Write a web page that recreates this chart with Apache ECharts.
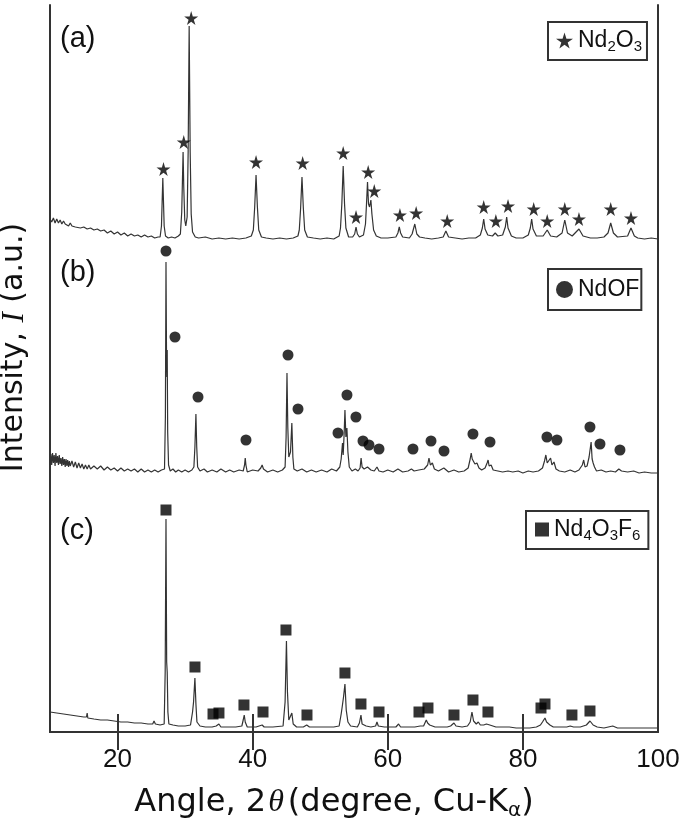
<!DOCTYPE html>
<html>
<head>
<meta charset="utf-8">
<script src="https://cdn.jsdelivr.net/npm/echarts@6/dist/echarts.min.js"></script>
<style>
  html, body { margin: 0; padding: 0; background: #fff; }
  #chart { width: 685px; height: 825px; }
</style>
</head>
<body>
<div id="chart"></div>
<script>
// vertical offsets of the stacked patterns (a.u.)
const offsetA = 490;
const offsetB = 255;
const offsetC = 0;

// x tick labels
const tickValues = [20, 40, 60, 80];
const labelValues = [20, 40, 60, 80, 100];

// (a) Nd2O3 pattern: [2theta, intensity]
const patternA = [
  [10.0,23],[10.25,20],[10.5,24],[10.75,19],[11.0,23],[11.25,19],[11.5,22],[11.75,18],[12.0,21],[12.25,18],
  [12.5,20],[12.75,16],[13.0,19],[13.25,16],[13.5,18],[13.75,15],[14.0,17],[14.5,14],[15.0,15],[15.5,13],
  [16.0,14],[16.5,12],[17.0,13],[17.5,11],[18.0,12],[18.5,9],[19.0,11],[19.5,8],
  [20.0,10],[20.5,7],[21.0,9],[21.5,6],[22.0,8],[22.5,6],[23.0,7],[23.5,5],[24.0,7],[24.5,5],
  [25.0,6],[25.5,4],[26.0,5],[26.3,5],[26.5,16],[26.6,40],[26.7,64],[26.8,40],[26.9,16],[27.1,6],
  [27.5,4],[28.0,5],[28.5,4],[29.0,6],[29.3,8],[29.5,30],[29.6,60],[29.7,90],[29.8,55],[29.95,22],
  [30.1,16],[30.3,25],[30.45,90],[30.6,216],[30.75,90],[30.9,28],[31.1,10],[31.5,5],[32,4],[33,5],
  [34,3],[35,4],[36,3],[37,4],[38,3],[39,4],[39.8,6],[40.1,12],[40.3,35],[40.5,67],
  [40.7,35],[40.9,12],[41.3,5],[42,4],[43,3],[44,4],[45,3],[46,4],[46.7,6],[46.9,12],
  [47.1,34],[47.3,65],[47.5,34],[47.7,12],[48.1,5],[49,4],[50,3],[51,4],[52,3],[52.8,6],
  [53.0,14],[53.2,38],[53.4,76],[53.6,38],[53.8,14],[54.2,5],[54.8,5],[55.1,8],[55.3,15],[55.5,8],
  [55.8,5],[56.4,7],[56.7,18],[56.85,38],[57.0,60],[57.15,38],[57.3,35],[57.5,42],[57.65,28],[57.9,12],
  [58.3,6],[59,4],[60,4],[61.2,5],[61.5,9],[61.7,15],[61.9,9],[62.2,5],[63.2,4],[63.6,8],
  [64.0,18],[64.3,8],[64.7,5],[65.5,4],[66.5,3],[67.5,4],[68.2,5],[68.6,11],[69.0,5],[70,4],
  [71,3],[72,4],[73,4],[73.7,7],[74.0,14],[74.2,23],[74.4,13],[74.8,7],[75.5,6],[75.9,9],
  [76.3,6],[77.0,7],[77.4,15],[77.6,25],[77.8,14],[78.3,6],[79,4],[80,4],[80.8,7],[81.1,14],
  [81.3,23],[81.5,13],[82.0,6],[83.0,6],[83.6,12],[84.1,6],[85.0,5],[85.8,9],[86.2,22],[86.6,9],
  [87.3,6],[88.3,13],[88.9,6],[90,4],[91,4],[92,5],[92.6,9],[93.0,19],[93.4,9],[94,5],
  [95.5,6],[96.0,14],[96.5,6],[97,4],[98,3],[99,4],[100,3]
];

// (b) NdOF pattern
const patternB = [
  [10.0,17],[10.12,23],[10.25,12],[10.37,24],[10.5,14],[10.62,22],[10.75,11],[10.87,24],[11.0,14],[11.12,21],
  [11.25,12],[11.37,22],[11.5,13],[11.62,19],[11.75,11],[11.87,20],[12.0,12],[12.12,18],[12.25,10],[12.37,18],
  [12.5,11],[12.62,17],[12.75,10],[12.87,16],[13.0,11],[13.25,16],[13.5,10],[13.75,15],[14.0,9],[14.25,14],
  [14.5,9],[14.75,13],[15.0,8],[15.25,12],[15.5,8],[15.75,12],[16.0,8],[16.5,11],
  [17.0,8],[17.5,11],[18.0,7],[18.5,10],[19.0,7],[19.5,9],[20.0,6],[20.5,9],[21.0,6],[21.5,8],
  [22.0,6],[22.5,8],[23.0,5],[23.5,8],[24.0,5],[24.5,7],[25.0,5],[25.5,7],[26.0,5],[26.5,7],
  [26.95,8],[27.08,60],[27.17,215],[27.25,120],[27.3,100],[27.35,127],[27.42,45],[27.55,12],[27.8,6],[28.2,8],
  [28.6,5],[29.0,7],[29.5,5],[30.0,7],[30.5,5],[31.0,7],[31.3,10],[31.45,30],[31.6,63],[31.72,30],
  [31.85,10],[32.2,6],[32.8,8],[33.3,5],[34.0,7],[34.7,5],[35.3,8],[36.0,5],[36.6,7],[37.2,5],
  [38.0,7],[38.6,6],[38.8,12],[38.9,19],[39.0,12],[39.2,5],[40.0,7],[40.8,6],[41.2,9],[41.4,12],
  [41.6,8],[42.2,5],[43.0,7],[43.7,5],[44.4,7],[44.8,10],[44.95,40],[45.08,104],[45.2,50],[45.35,20],
  [45.6,25],[45.8,54],[45.95,20],[46.1,8],[46.6,6],[47.3,8],[48.0,5],[48.7,7],[49.4,5],[50.2,7],
  [51.0,5],[51.7,8],[52.4,6],[52.9,10],[53.1,18],[53.3,34],[53.4,22],[53.55,45],[53.66,67],[53.8,40],
  [53.95,49],[54.1,25],[54.3,10],[54.7,6],[55.2,8],[55.6,6],[55.9,9],[56.05,19],[56.2,10],[56.5,8],
  [57.0,10],[57.5,7],[58.0,6],[58.4,10],[58.7,6],[59.3,5],[60.0,7],[60.8,5],[61.5,8],[62.2,5],
  [63.0,6],[63.5,8],[63.7,10],[63.9,6],[64.6,7],[65.4,8],[65.9,12],[66.1,19],[66.3,12],[66.6,14],
  [66.9,8],[67.5,6],[68.3,9],[69.0,5],[69.8,7],[70.5,5],[71.3,6],[71.9,9],[72.2,18],[72.35,24],
  [72.5,18],[72.7,20],[72.9,13],[73.2,14],[73.5,9],[73.9,7],[74.4,9],[74.7,14],[74.85,17],[75.0,11],
  [75.3,12],[75.6,7],[76.3,6],[77.0,5],[77.8,6],[78.5,5],[79.3,6],[80.0,4],[80.8,6],[81.5,5],
  [82.3,6],[82.9,9],[83.2,16],[83.4,22],[83.6,14],[83.85,12],[84.1,19],[84.3,12],[84.6,15],[84.9,8],
  [85.4,6],[86.2,5],[87.0,7],[87.7,5],[88.3,7],[88.8,12],[89.0,17],[89.2,10],[89.5,11],[89.8,20],
  [90.1,35],[90.25,18],[90.4,14],[90.6,10],[90.9,6],[91.6,7],[92.3,5],[93.0,6],[93.7,5],[94.2,8],
  [94.4,10],[94.6,6],[95.5,5],[96.4,6],[97.2,4],[98.0,5],[99.0,4],[100,4]
];

// (c) Nd4O3F6 pattern
const patternC = [
  [10.0,20],[11,19],[12,18],[13,17],[14,16],[15,15],[15.4,15],[15.5,19],[15.6,14],[16.5,13],
  [17.5,12],[18.5,12],[19.5,11],[20.5,10],[21.5,10],[22.5,9],[23.5,9],[24.5,8],[25.2,8],[25.4,11],
  [25.6,8],[26.3,7],[26.9,8],[27.05,60],[27.17,213],[27.27,70],[27.35,60],[27.45,20],[27.6,8],[28.2,7],
  [29,6],[30,6],[30.8,7],[31.1,20],[31.25,30],[31.45,54],[31.6,28],[31.75,10],[32.2,6],[33,5],
  [34,5],[34.6,6],[35.0,8],[35.3,5],[36.5,5],[37.5,5],[38.4,6],[38.6,12],[38.75,17],[38.9,10],
  [39.2,5],[40.5,5],[41.4,7],[41.7,5],[43,5],[44.5,6],[44.8,30],[45.0,91],[45.15,40],[45.35,12],
  [45.6,12],[45.8,19],[46.0,8],[46.5,5],[47.5,5],[48.0,7],[48.4,5],[50,5],[51,5],[52,5],
  [52.8,6],[53.1,18],[53.25,25],[53.45,35],[53.66,48],[53.85,22],[54.1,10],[54.5,6],[55.5,5],[55.8,9],
  [56.03,17],[56.2,8],[56.8,6],[57.5,5],[58.2,6],[58.4,10],[58.6,6],[59.5,5],[60.5,5],[61.2,5],
  [61.6,8],[61.9,5],[63,5],[64,5],[64.8,6],[65.0,8],[65.3,6],[65.7,12],[65.9,9],[66.2,7],
  [67,5],[68,5],[68.8,5],[69.3,6],[69.8,9],[70.1,6],[71,5],[71.8,6],[72.2,10],[72.46,20],
  [72.7,11],[73.1,8],[73.4,10],[73.7,7],[74.2,7],[74.6,8],[74.83,10],[75.1,7],[76,5],[77,5],
  [78,5],[79,4],[80,4],[81,4],[82,5],[82.6,7],[82.9,10],[83.27,14],[83.5,10],[83.7,12],
  [84.0,7],[84.5,5],[85.5,5],[86.5,5],[87.0,6],[87.26,8],[87.5,5],[88.5,5],[89.4,7],[89.93,11],
  [90.4,7],[91,5],[92,4],[93.3,6],[94,4],[96,4],[98,4],[100,4]
];

// reflection markers: [2theta, height above its pattern baseline]
const starsA = [
  [26.8,73],[29.8,100],[30.9,224],[40.5,80],[47.4,79],[53.4,89],[55.3,25],[57.1,70],[58.0,51],[61.8,27],
  [64.2,29],[68.8,21],[74.2,35],[76.0,21],[77.8,36],[81.6,33],[83.6,21],[86.2,33],[88.3,23],[93.0,33],[96.0,24]
];
const circlesB = [
  [27.17,226],[28.5,140],[31.91,80],[39.01,37],[45.23,122],[46.71,68],[52.63,44],[53.96,82],[55.29,60],[56.33,36],
  [57.22,32],[58.7,28],[63.73,28],[66.4,36],[68.32,26],[72.61,43],[75.13,35],[83.56,40],[85.04,37],[89.93,50],
  [91.41,33],[94.37,27]
];
const squaresC = [
  [27.17,222],[31.46,65],[34.13,18],[35.01,19],[38.71,27],[41.53,20],[44.93,102],[48.04,17],[53.66,59],[56.03,28],
  [58.7,20],[64.62,20],[65.95,24],[69.8,17],[72.61,32],[74.83,20],[82.68,24],[83.27,28],[87.26,17],[89.93,21]
];

const starPath = 'path://M50,0 L61,35 L98,35 L68,57 L79,91 L50,70 L21,91 L32,57 L2,35 L39,35 Z';
const ink = '#333';
const font = 'Liberation Sans, Arial, sans-serif';
const titleFont = 'DejaVu Sans, sans-serif';
const serif = 'Liberation Serif, serif';

const shift = (arr, off) => arr.map(p => [p[0], p[1] + off]);

const chart = echarts.init(document.getElementById('chart'), null, { renderer: 'canvas' });

const legendBase = {
  orient: 'horizontal',
  selectedMode: false,
  borderColor: ink,
  borderWidth: 2,
  borderRadius: 0,
  itemGap: 0,
  textStyle: {
    fontFamily: font,
    fontSize: 23,
    color: '#111',
    rich: { s: { fontFamily: font, fontSize: 15, color: '#111', padding: [12, 0, 0, 0] } }
  }
};

const panelLabel = { fontSize: 29, fontWeight: 'normal', color: '#111', fontFamily: font };

const option = {
  animation: false,
  textStyle: { fontFamily: font },
  title: [
    { text: '(a)', left: 60, top: 24, padding: 0, textStyle: panelLabel },
    { text: '(b)', left: 60, top: 258, padding: 0, textStyle: panelLabel },
    { text: '(c)', left: 60, top: 516, padding: 0, textStyle: panelLabel }
  ],
  legend: [
    Object.assign({}, legendBase, {
      left: 548, top: 22, padding: [7, 5, 6, 8],
      itemWidth: 17, itemHeight: 17,
      data: [{ name: 'Nd2O3', icon: starPath }],
      formatter: () => 'Nd{s|2}O{s|3}'
    }),
    Object.assign({}, legendBase, {
      left: 548, top: 269, padding: [9, 2, 9, 8],
      itemWidth: 17, itemHeight: 17,
      data: [{ name: 'NdOF', icon: 'circle' }],
      formatter: () => 'NdOF'
    }),
    Object.assign({}, legendBase, {
      left: 526, top: 511, padding: [7, 8, 6, 9],
      itemWidth: 14, itemHeight: 14,
      data: [{ name: 'Nd4O3F6', icon: 'rect' }],
      formatter: () => 'Nd{s|4}O{s|3}F{s|6}'
    })
  ],
  grid: { left: 50, right: 27, top: 5, bottom: 93, containLabel: false, outerBoundsMode: 'none' },
  xAxis: [
    {
      type: 'value', min: 10, max: 100, position: 'bottom',
      axisLine: { show: true, lineStyle: { color: ink, width: 2 } },
      axisTick: { show: true, inside: true, length: 18, customValues: tickValues, lineStyle: { color: ink, width: 2 } },
      axisLabel: { customValues: labelValues, fontSize: 26, color: '#111', margin: 15, fontFamily: font },
      splitLine: { show: false },
      name: '{a|Angle, 2}{th|θ}{a|(degree, Cu-K}{sub|α}{a|)}',
      nameLocation: 'middle',
      nameGap: 53,
      nameTextStyle: {
        padding: [0, 40, 0, 0],
        rich: {
          a: { fontFamily: titleFont, fontSize: 32, color: '#111' },
          th: { fontFamily: serif, fontStyle: 'italic', fontSize: 32, color: '#111', padding: [0, 4, 0, 2] },
          sub: { fontFamily: titleFont, fontSize: 20, color: '#111', padding: [16, 0, 0, 0] }
        }
      }
    },
    {
      type: 'value', min: 10, max: 100, position: 'top',
      axisLine: { show: true, lineStyle: { color: ink, width: 2 } },
      axisTick: { show: true, inside: true, length: 18, customValues: tickValues, lineStyle: { color: ink, width: 2 } },
      axisLabel: { show: false },
      splitLine: { show: false }
    }
  ],
  yAxis: [
    {
      type: 'value', min: 0, max: 727, position: 'left',
      axisLine: { show: true, lineStyle: { color: ink, width: 2 } },
      axisTick: { show: false },
      axisLabel: { show: false },
      splitLine: { show: false },
      name: '{a|Intensity, }{i|I}{a| (a.u.)}',
      nameLocation: 'middle',
      nameRotate: 90,
      nameGap: 20,
      nameTextStyle: {
        padding: [0, 0, 0, 42],
        rich: {
          a: { fontFamily: titleFont, fontSize: 30, color: '#111' },
          i: { fontFamily: serif, fontStyle: 'italic', fontSize: 31, color: '#111' }
        }
      }
    },
    {
      type: 'value', min: 0, max: 727, position: 'right',
      axisLine: { show: true, lineStyle: { color: ink, width: 2 } },
      axisTick: { show: false },
      axisLabel: { show: false },
      splitLine: { show: false }
    }
  ],
  series: [
    { name: 'a', type: 'line', data: shift(patternA, offsetA), symbol: 'none', lineStyle: { color: ink, width: 1.2 }, z: 2 },
    { name: 'b', type: 'line', data: shift(patternB, offsetB), symbol: 'none', lineStyle: { color: ink, width: 1.2 }, z: 2 },
    { name: 'c', type: 'line', data: shift(patternC, offsetC), symbol: 'none', lineStyle: { color: ink, width: 1.2 }, z: 2 },
    { name: 'Nd2O3', type: 'scatter', data: shift(starsA, offsetA), symbol: starPath, symbolSize: 14, itemStyle: { color: '#000' }, z: 3 },
    { name: 'NdOF', type: 'scatter', data: shift(circlesB, offsetB), symbol: 'circle', symbolSize: 11, itemStyle: { color: '#000' }, z: 3 },
    { name: 'Nd4O3F6', type: 'scatter', data: shift(squaresC, offsetC), symbol: 'rect', symbolSize: 11, itemStyle: { color: '#000' }, z: 3 }
  ]
};

chart.setOption(option);
</script>
</body>
</html>
